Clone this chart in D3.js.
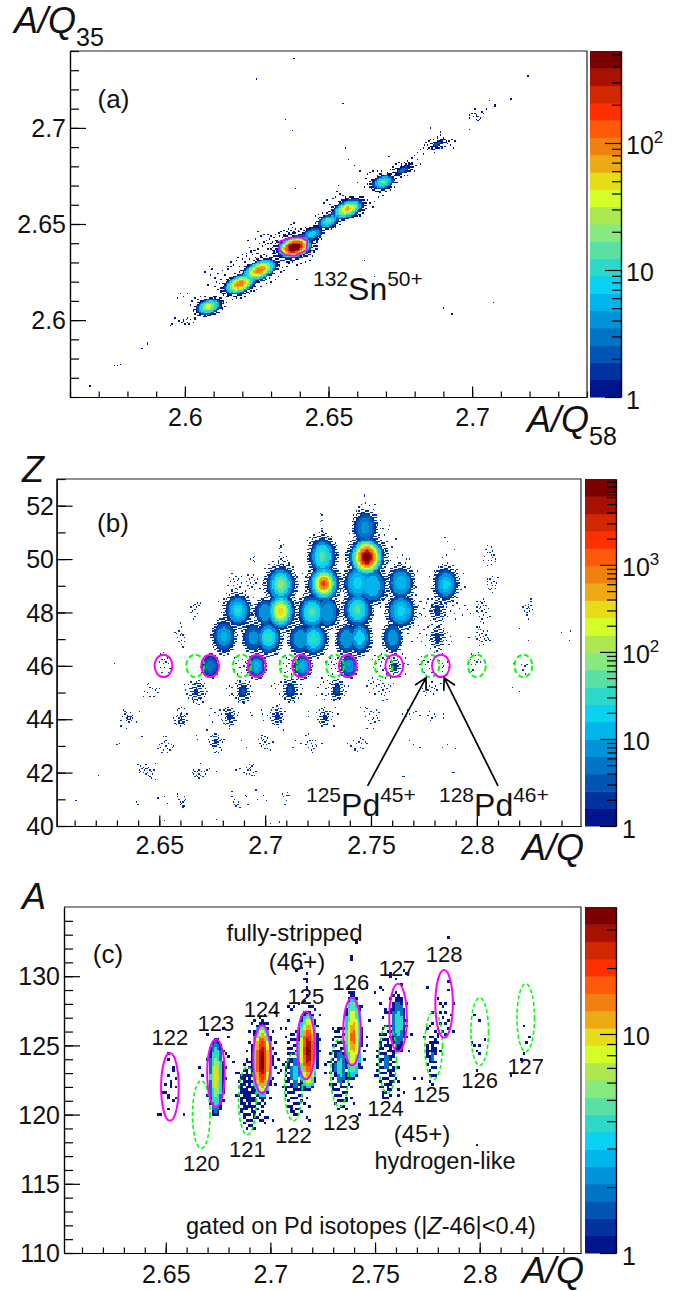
<!DOCTYPE html>
<html>
<head>
<meta charset="utf-8">
<script src="https://cdnjs.cloudflare.com/ajax/libs/d3/7.8.5/d3.min.js"></script>
<style>
html, body { margin: 0; background: #fff; }
svg { display: block; }
text { font-family: "Liberation Sans", Arial, sans-serif; fill: #111; }
.axis path, .axis line { stroke: #000; stroke-width: 1.2; }
.axis text { font-size: 25px; font-family: "Liberation Sans", Arial, sans-serif; fill: #111; }
</style>
</head>
<body>
<div id="chart"></div>
<script>
// 20 colour bands of the z scale, bottom to top
const palette = ["#00148c", "#0033a0", "#0055b4", "#0074c4", "#0093d8", "#00b4ec", "#0ad2f2", "#2ed8c8", "#5ae0a4", "#86ea7e",
    "#ade850", "#d4ff28", "#e6dc18", "#ecaa14", "#f28010", "#ff5a0a", "#ff3000", "#d02800", "#a81000", "#7d0000"];

// tick values
const ticksQA = [2.6, 2.65, 2.7];
const ticksQB = [2.65, 2.7, 2.75, 2.8];
const ticksZ = [40, 42, 44, 46, 48, 50, 52];
const ticksA = [110, 115, 120, 125, 130];

// Pd ridge lines: A/Q of the fully-stripped and hydrogen-like isotopes
const massBare = [122, 123, 124, 125, 126, 127, 128];
const qBare = [2.652, 2.674, 2.696, 2.717, 2.739, 2.761, 2.783];
const massHlike = [120, 121, 122, 123, 124, 125, 126, 127];
const qHlike = [2.667, 2.689, 2.711, 2.733, 2.756, 2.778, 2.8, 2.822];

// the 132Sn gate in panel (a)
const gateSn = [[2.6329, 2.6408], [2.6368, 2.6429], [2.6407, 2.6429], [2.6426, 2.6412],
    [2.6424, 2.6365], [2.6383, 2.6335], [2.6349, 2.6339], [2.6329, 2.6365]];

// isotope blobs: [x, y, [[count, half width, half height], ...]] read as contours from the picture
// a count of .5 is a contour where only part of the bins are filled
const blobsA = [
    [2.6083, 2.607, [[1, .0036, .0026], [2, .0033, .0024], [5, .0029, .0021], [10, .0025, .0019], [20, .0017, .0012], [35, .0009, .0007]]],
    [2.6192, 2.6188, [[1, .0048, .0031], [2, .0045, .0029], [5, .0041, .0026], [10, .0037, .0024], [20, .003, .002], [40, .0024, .0016], [70, .0017, .0012], [110, .001, .0007]]],
    [2.626, 2.626, [[1, .0052, .0031], [2, .0049, .0029], [5, .0045, .0027], [10, .0041, .0024], [20, .0033, .002], [40, .0026, .0016], [70, .0018, .0012], [100, .001, .0007]]],
    [2.6382, 2.638, [[.5, .0066, .0048], [1, .005, .0038], [2, .0047, .0036], [5, .0043, .0034], [10, .004, .0031], [20, .0037, .0029], [40, .0034, .0026], [80, .003, .0023], [150, .0026, .0019], [250, .0021, .0016], [400, .0016, .0012], [520, .0011, .0008]]],
    [2.6443, 2.6448, [[1, .0031, .002], [2, .0027, .0017], [4, .0021, .0013], [8, .0012, .0008]]],
    [2.65, 2.6515, [[1, .0033, .0022], [2, .003, .002], [5, .0024, .0015], [10, .0016, .001], [15, .0008, .0005]]],
    [2.6566, 2.6578, [[1, .0048, .003], [2, .0044, .0027], [5, .0039, .0024], [10, .0033, .002], [20, .0026, .0016], [40, .0018, .0011], [70, .0009, .0006]]],
    [2.669, 2.6718, [[1, .0032, .0024], [2, .0029, .0021], [5, .0024, .0017], [10, .0016, .0012], [18, .0008, .0005]]],
    [2.6758, 2.678, [[.5, .0036, .002], [1, .0022, .0011], [2, .0016, .0008], [3, .0009, .0005]]],
    [2.688, 2.6916, [[.5, .003, .0016], [1, .0016, .0008], [2, .001, .0005]]]
];

// sparse cells: [centre x, centre y, [dx, dy, dx, dy, ...] in bins around that centre]
const cellsA = [
    [2.6005, 2.5992, [-5, 0, -3, -1, -2, 1, -1, -2, 0, 1, 1, -1, 2, -2, 3, 1, 5, -1, 6, 1, 6, 2, -8, 2, -10, -2, 1, 2, -2, 0]],
    [2.7016, 2.7058, [-5, 1, -3, 2, -1, 5, -2, 0, 0, 0, 0, 1, 1, 0, 0, -2, 2, -2, 1, -3, 3, -1, 5, 2, 4, 3, 7, 5, -5, -1, -1, 2, -5, -9, 13, 8, 9, 11]],
    [2.6382, 2.638, [-19, 5, -18, 3, -17, 6, -16, 8, -15, 4, -14, 7, -13, 9, -12, 5, -11, 10, -10, 8, -9, 11, -8, 7, -7, 12, -6, 9, -5, 11, -4, 13, -3, 10, -2, 12, -1, 14, 0, 11, 1, 13, 3, 12, 5, 13, -16, 3, -13, 5, -10, 10, -7, 9, -4, 10, -20, 2, -21, 4, 7, 12, 9, 11, 11, 7, 13, 3, 15, 1, 16, -1, 14, -3, 13, -6, 11, -9, 8, -10, 5, -11, 2, -12, -1, -10, -4, -11, -11, -6, -14, -3, -16, -1, -18, -1, -30, -3, -28, -2, -26, -4, -31, 0, -25, -1, -22, 1, -24, 3, -27, 6, -23, 8, -21, 9, -2, 16, 0, 17, -18, 9, -32, 5, -25, 11]],
    [2.626, 2.626, [-18, 4, -16, 7, -14, 3, -12, 8, -10, 6, -9, 10, -7, 8, -5, 11, -3, 9, -1, 12, 1, 10, 3, 11, 5, 8, 8, 9, 10, 7, 12, 6, 14, 3, 16, 2, 17, 0, 15, -1, 13, -4, 11, -6, 8, -8, 5, -9, -9, 12, -12, 11, -15, 9, -20, 6, -22, 3, 19, 3, 21, 5, -3, 14, -6, 14]],
    [2.6192, 2.6188, [-17, 4, -15, 7, -13, 3, -12, 9, -10, 6, -8, 10, -16, 1, -14, 0, -17, -2, -15, -4, -13, -6, -11, -8, -8, -9, -5, -11, -2, -10, 1, -10, 4, -9, 7, -7, 10, -5, 12, -4, 15, -2, -20, 6, -19, 10, -22, -1, -6, 12, -21, 12, -24, 8]],
    [2.6083, 2.607, [-12, 4, -10, 6, -8, 5, -6, 7, -3, 7, 0, 6, 4, 6, 7, 5, 10, 3, 11, 0, 9, -2, 7, -4, 4, -5, 1, -6, -3, -6, -6, -5, -9, -4, -11, -2, -13, 1, -18, 7, -20, 9, -22, 6, -15, 9, 12, 3]],
    [2.6566, 2.6578, [-16, 4, -14, 6, -12, 3, -10, 7, -8, 8, -7, 12, -6, 16, -5, 10, -3, 9, -1, 8, 2, 8, 5, 7, 8, 5, 11, 3, 13, 0, 11, -3, 9, -5, 14, 6, 16, 4, 19, 5, 22, 8, 25, 9, 18, 1]],
    [2.669, 2.6718, [-12, 3, -11, 6, -9, 7, -7, 8, -4, 8, -1, 8, 3, 7, 6, 6, 9, 3, 10, 0, 8, -3, 5, -5, 2, -6, -2, -7, -5, -6, -8, -4, -11, -1, -13, -3, -18, 0, -16, 8, -20, 12, -24, 16]],
    [2.6758, 2.678, [-11, -3, -9, 0, -7, 2, -6, -2, -5, 4, -4, 1, -3, 5, -2, -3, -1, 3, 1, 5, 2, -2, 3, 6, 4, 3, 5, 0, 6, 5, 7, 2, 8, -1, 9, 3, -8, -5, -10, -8, 10, 7, 12, 4, 3, -4, -3, -4, 14, 11, 17, 14, 20, 15, 22, 12, 24, 17, 26, 19]],
    [2.688, 2.6916, [-9, -1, -8, 1, -7, -1, -6, 2, -5, 0, -5, 3, -4, -3, -3, 3, -2, -4, 0, 4, 0, 5, 2, 6, 2, 3, 3, -3, 4, 4, 5, 1, 5, -2, 6, 2, 7, 0, 8, 2, 9, -1, 10, 3, 12, 2, 11, -3, 2, 8, -10, -3, -12, -4, -14, -6, -16, -8, -18, -10, -20, -13, -22, -14]],
    [2.65, 2.6515, [-9, 4, -7, 5, -4, 6, -1, 6, 2, 6, 5, 4, 7, 2, 8, -2, 5, -4, 2, -5, -2, -5, -5, -4, -8, 0]],
    [2.6443, 2.6448, [-8, 4, -5, 5, -2, 5, 1, 4, 4, 4, 7, 1, 6, -3, 3, -4, 0, -5, -3, -4, -6, -2]]
];

// stray counts in panel (a)
const strayQA = [2.6378, 2.6248, 2.7196, 2.7135, 2.7062, 2.708, 2.6551, 2.6349, 2.6373, 2.6857, 2.6989, 2.6561, 2.6712, 2.6383, 2.6624, 2.6392, 2.6662, 2.7074, 2.6899, 2.693, 2.567, 2.5753, 2.5765, 2.5774, 2.585, 2.5868, 2.5872, 2.5948];
const strayYA = [2.7362, 2.7255, 2.727, 2.7147, 2.714, 2.7114, 2.7124, 2.7046, 2.6984, 2.6999, 2.6994, 2.6896, 2.6849, 2.6687, 2.6313, 2.6214, 2.6224, 2.6094, 2.6063, 2.6032, 2.5657, 2.5761, 2.5766, 2.5772, 2.585, 2.5886, 2.5876, 2.5969];

const blobsB = [
    [2.748, 50.07, [[1, .0078, .95], [3, .0073, .88], [10, .0066, .8], [30, .0057, .72], [70, .005, .66], [150, .0047, .58], [300, .004, .52], [600, .0034, .44], [1500, .0028, .36], [3000, .0021, .3], [6000, .0014, .2], [9000, .001, .12]]],
    [2.7277, 49.07, [[1, .0068, .85], [3, .0063, .8], [8, .0055, .72], [20, .0047, .62], [50, .004, .52], [120, .0032, .42], [300, .0025, .33], [600, .0017, .23], [1000, .001, .14]]],
    [2.7271, 50.1, [[1, .0058, .85], [2, .0052, .78], [5, .0045, .68], [10, .0035, .55], [18, .0022, .35], [26, .0012, .2]]],
    [2.7074, 49.04, [[1, .0063, .85], [2, .0057, .78], [5, .005, .7], [12, .0038, .55], [25, .0026, .4], [45, .0014, .22]]],
    [2.7074, 48.04, [[1, .0062, .85], [3, .0056, .78], [8, .005, .7], [20, .0042, .6], [50, .0033, .48], [110, .0024, .35], [200, .0013, .2]]],
    [2.7, 48.0, [[1, .0045, .6], [2, .004, .55], [4, .0028, .4]]],
    [2.6871, 48.07, [[1, .0054, .72], [2, .0048, .66], [4, .0042, .58], [8, .003, .42], [14, .002, .28], [20, .001, .15]]],
    [2.7222, 48.0, [[1, .0062, .8], [2, .0056, .74], [5, .0048, .64], [10, .0036, .5], [20, .0024, .33], [30, .0012, .17]]],
    [2.7293, 48.0, [[1, .005, .7], [3, .0042, .6], [6, .0028, .4]]],
    [2.7437, 48.1, [[1, .0062, .8], [2, .0056, .74], [5, .0048, .64], [10, .0036, .5], [18, .0024, .33], [26, .0012, .17]]],
    [2.7642, 48.05, [[1, .0058, .78], [2, .0053, .7], [4, .0046, .6], [8, .0033, .45], [15, .0018, .25]]],
    [2.7815, 48.05, [[.5, .0036, .55], [1, .0016, .25]]],
    [2.7439, 49.1, [[1, .0062, .8], [2, .0056, .74], [4, .0048, .65], [8, .0035, .5], [12, .002, .3]]],
    [2.7505, 49.0, [[1, .006, .8], [3, .0052, .7], [8, .0035, .5]]],
    [2.7642, 49.1, [[1, .0052, .72], [2, .0047, .66], [4, .004, .55], [8, .0025, .35]]],
    [2.7854, 49.05, [[1, .005, .72], [2, .0045, .66], [4, .0037, .55], [8, .0026, .38], [12, .0015, .22]]],
    [2.7472, 51.16, [[1, .0048, .75], [2, .0042, .65], [3, .0032, .5], [4, .0018, .3]]],
    [2.6806, 47.1, [[1, .0048, .72], [2, .0042, .62], [4, .0032, .45], [7, .0018, .25]]],
    [2.6943, 47.05, [[1, .0042, .62], [2, .0036, .55], [4, .0022, .33]]],
    [2.7016, 47.05, [[1, .0055, .75], [2, .005, .68], [5, .0042, .58], [10, .003, .42], [18, .0018, .25]]],
    [2.7165, 47.0, [[1, .0048, .65], [2, .0042, .58], [4, .003, .42]]],
    [2.7229, 47.0, [[1, .0058, .75], [2, .0052, .68], [5, .0044, .58], [10, .0032, .42], [20, .002, .26]]],
    [2.7385, 47.0, [[1, .0045, .65], [2, .004, .6], [5, .0028, .42]]],
    [2.7447, 47.05, [[1, .0048, .72], [2, .0042, .65], [5, .0034, .52], [10, .0022, .33]]],
    [2.7602, 47.05, [[1, .004, .65], [2, .0035, .58], [4, .0024, .38]]],
    [2.7815, 47.05, [[.5, .0034, .55], [1, .0014, .22]]],
    [2.674, 46.0, [[1, .0036, .5], [2, .0028, .4], [3, .0018, .25]]],
    [2.696, 46.0, [[1, .0038, .52], [2, .0034, .46], [4, .0026, .36], [8, .0015, .2]]],
    [2.7177, 46.0, [[1, .0038, .52], [2, .0034, .46], [4, .0026, .36], [8, .0015, .2]]],
    [2.7395, 46.0, [[1, .0036, .5], [2, .0032, .44], [4, .0022, .3], [6, .0012, .16]]],
    [2.7612, 46.0, [[.5, .0026, .42], [1, .0012, .18]]],
    [2.6677, 45.04, [[.5, .003, .5], [1, .001, .15]]],
    [2.6895, 45.04, [[.5, .003, .52], [1, .0018, .3], [2, .0008, .15]]],
    [2.7119, 45.1, [[.5, .0034, .55], [1, .002, .35], [2, .0011, .2]]],
    [2.7338, 45.1, [[.5, .003, .5], [1, .0016, .3], [2, .0008, .15]]],
    [2.6606, 44.0, [[.5, .0016, .3], [1, .0006, .1]]],
    [2.6834, 44.1, [[.5, .0026, .42], [1, .0011, .2]]],
    [2.7059, 44.1, [[.5, .0024, .4], [1, .001, .16]]],
    [2.728, 44.08, [[.5, .0024, .38], [1, .001, .16]]],
    [2.6767, 43.15, [[.5, .002, .32], [1, .0006, .1]]]
];

const cellsB = [
    // rims of the dense blobs
    [2.748, 50.07, [-15, 5, -14, 12, -13, -6, -13, 18, 14, 6, 14, -5, 15, 12, 16, -3, 13, 17, 10, 22, 19, 8, 18, -2, -16, 2, 12, 22, 22, 14, 24, -4]],
    [2.7472, 51.16, [-9, 10, -8, 4, -9, -4, -7, 13, -5, 16, -3, 18, 0, 19, 3, 17, 6, 14, 8, 10, 9, 3, 10, -5, -1, 25, -1, 24, 7, 18, 11, 6, 18, 2, 17, -1]],
    [2.7277, 49.07, [-13, 6, -12, -3, -13, -10, -14, 2, -16, 8, 13, 8, 13, -4, 14, 2, 12, -12]],
    [2.7271, 50.1, [-11, 5, -10, -6, -11, 12, -9, 14, -6, 16, -2, 18, 3, 17, 7, 15, 10, 10, 11, 2, 0, 27, -1, 26, 0, 31, -1, 32]],
    [2.7074, 49.04, [-12, 6, -11, -5, -12, 12, -9, 15, -6, 17, -2, 18, 2, 17, 6, 15, 9, 13, 12, 6, 12, -2, -1, 27, 0, 28, -1, 33, 2, 30, -14, 0]],
    [2.6871, 48.07, [-11, 4, -10, 9, -8, 13, -4, 15, 0, 16, 4, 14, 8, 11, 10, 5, 11, -2, 10, -8, 7, -12, 3, -15, -2, -15, -6, -12, -10, -6, -12, -1, -14, 7, 12, 10, 14, 1]],
    [2.7642, 49.1, [-10, 4, -9, -6, -8, 11, -5, 14, -1, 15, 3, 15, 7, 12, 10, 6, 11, -3, -12, 2, -3, 19, 1, 21, 4, 18, 12, 9, 6, 18]],
    [2.7642, 48.05, [-12, 5, -13, -2, -10, -9, -14, 8, -16, 3, -11, 11, -7, 14, 11, 12, 12, 3, 12, -5, 9, -11, 5, -14, 0, -16, -4, -15, 14, 7, 15, -3]],
    [2.7854, 49.05, [-10, 4, -11, -3, -9, 10, -6, 13, -3, 15, 1, 16, 5, 14, 8, 11, 10, 4, 11, -4, 8, -10, 5, -13, 0, -15, -4, -14, -8, -10, -13, 6, 13, 8, 14, -2, 0, 22, -3, 20, 1, 32, -1, 35, 6, 26]],
    [2.7815, 48.05, [-14, 4, -13, -2, -12, 7, -10, 2, -9, -4, -8, 6, -7, 9, -6, 0, -5, -7, -4, 9, -4, 4, -2, 11, 0, 8, 1, -7, 2, -11, 4, 9, 5, 4, 5, -8, 7, 3, 8, -4, 9, 7, 10, 0, 12, 4, 13, -2, 15, 6, 17, 2, 19, -3, 21, 4, 23, 1, 25, -2, 14, -6, -6, -11, -2, -13]],
    [2.7815, 47.05, [-15, 0, -13, 3, -12, -3, -10, 6, -9, -6, -8, 2, -7, 8, -6, -2, -5, -8, -4, 10, -3, 6, 0, 12, 1, 9, 3, 10, 5, 7, 6, 3, 7, -2, 8, 4, 9, -5, 10, 1, 11, -3, 3, -9, 0, -10, -2, -11, 4, -12, 1, -13, -14, 9, -19, -3, -22, 3, -31, 9, -31, -2]],
    // fully- and hydrogen-like rows
    [2.6525, 46.1, [-3, 7, -1, 8, 1, 6, -2, 3, 0, 3, 2, 4, -4, 1, -1, 0, 1, 1, 3, 0, -3, -3, 0, -3, 4, -4, 3, -7, -2, -7, -38, 0]],
    [2.6886, 46.0, [-5, 6, -4, 2, -5, -3, -3, -6, -2, 4, -1, -1, 1, 5, 2, 0, 0, -5, 3, -8, 4, 7, 3, 3]],
    [2.711, 46.0, [-7, 4, -6, -2, -5, 7, -4, 2, -3, -5, -2, 6, -2, 0, -1, -4, 0, 5, 0, 2, 1, -2, 2, 4, 2, -6, 3, 0]],
    [2.733, 46.0, [-7, 3, -6, -4, -5, 1, -4, 6, -3, -2, -3, 3, -2, -6, -1, 1, 0, 5, 0, -2, 1, 2, 2, -4, 2, 6, 3, 0]],
    [2.7557, 46.1, [-8, 3, -7, -3, -6, 6, -5, 0, -4, -6, -3, 3, -2, -2, -1, 7, -1, 1, 0, -5, 1, 3, 2, -2, 3, 5, 4, -7]],
    [2.7612, 46.0, [-9, 6, -8, -2, -7, 3, -6, -6, -5, 8, -4, 6, -3, -9, 0, 9, 2, 7, 4, -8, 5, 5, 6, -3, 7, 2, 8, -6, 8, 6, 6, 9, 10, 1]],
    [2.7767, 46.1, [-7, 3, -6, -1, -5, 5, -4, -4, -3, 2, -2, -1, -1, 5, 0, 1, 1, -4, 2, 3, 3, -7, -3, -7]],
    [2.7835, 46.0, [-2, 4, 0, 2, 0, -1, 1, 0, 0, -4, 4, 3, 5, -1, 3, -7]],
    [2.7992, 46.1, [-3, 7, 0, 6, 2, 8, -4, 3, -1, 2, 2, 3, 4, 1, -3, -1, 0, -1, 1, 1, -2, -5, -3, -6, -4, -7]],
    [2.8228, 46.0, [-2, 1, 0, 0, 1, 0, 2, 1, -1, -3, 1, -6, -8, 2]],
    // upper sparse groups
    [2.8055, 50.0, [-3, 2, -2, 7, 0, -1, 1, 5, 2, 3, 2, -1, 3, 6, 3, 1, 4, 3, 5, 0, 5, -2, -4, -1, -1, 5, -1, -5, 2, -4, -1, 10, 2, 9]],
    [2.8066, 49.04, [-3, 4, -3, 0, -2, -3, -1, 4, 0, 1, 0, -3, 1, 6, 1, -1, 2, 2, 3, -3, 4, 1, -1, -4, 1, -6, 5, 5, 3, -1, -3, 2]],
    [2.8024, 48.1, [-4, 2, -4, -1, -3, 4, -3, -2, -2, 1, -2, -5, -1, 6, -1, 2, 0, -1, 0, 5, 1, 3, 1, -4, 2, 0, 3, 3, 3, -2, 4, -6, 5, 1, 6, -5, -1, -9, 0, -7, 1, -10, -4, 6, 1, 8, 2, 6]],
    [2.8024, 47.12, [-5, 0, -4, 3, -4, -2, -3, 5, -2, -3, -2, 1, -1, 5, -1, -1, 0, 2, 0, -4, 1, 0, 1, 4, 2, -2, 3, 1, 3, -3, 4, -1, 5, -2, 6, -3, -2, 7, 1, -6, -2, -7, -10, -1, -4, 7, 4, 4]],
    [2.8236, 48.16, [-3, 1, -2, -2, -1, 2, 0, 0, 0, -3, 1, 3, 1, 1, 2, 0, 2, -2, 3, 2, 4, -1, 0, -5, 1, -8, 3, 7, 3, 5]],
    [2.6861, 49.04, [-5, 5, -4, 2, -3, 8, -2, 4, -2, -1, -1, 2, 0, 6, 0, -3, 1, 3, 1, 0, 2, 4, 3, -2, 4, 1, -3, -4, -6, -1, -1, -6, 4, 6]],
    [2.6938, 49.04, [-4, 2, -3, -1, -2, 4, -2, -3, -1, 1, 0, 5, 0, -2, 1, 0, 2, 3, 2, -4, 3, 1, -3, 7, 1, 7, 4, 4, 6, -3, -5, -5]],
    [2.6669, 48.04, [-3, 3, -1, 4, 0, 5, 1, 3, 2, 6, 3, 4, 4, 6, -2, 0, 0, 1, -3, -1, 0, -4, -1, -6, 2, -2]],
    [2.6598, 47.1, [-4, 3, -3, 2, -1, 4, 1, 7, 0, 1, 2, 1, 3, -1, -2, -1, -1, -4, 1, -3, 3, -4, 1, -6, 2, -8, 0, 10, 1, 2]],
    [2.7079, 49.9, [-3, 0, -2, 4, -1, 2, -1, 7, 0, 1, 0, -2, 1, 3, 2, 0, 3, 4, 4, 1, 5, -1, -1, 12, 1, -3]],
    [2.7268, 51.0, [0, 3, 0, 1, 1, 0, 1, -2, 0, -4]],
    [2.6943, 50.0, [-2, 0, 0, 1, 0, -1, 1, 2, 1, -2]],
    // lower groups
    [2.6677, 45.04, [-9, 5, -8, 1, -7, -2, -6, 5, -6, -5, -5, 2, -5, -3, -4, 7, -3, -6, -3, 3, -2, -8, -1, 6, 0, -9, 0, 7, 1, -7, 2, 8, 3, 6, 3, -6, 4, -5, 5, 4, 6, -4, 7, 2, 7, -2, 8, 0, 6, 6, 5, -8, 2, -10, 4, 9]],
    [2.6895, 45.04, [-12, 2, -10, 4, -8, -2, -8, 3, -7, -3, -5, 6, -5, -5, -4, 8, -3, -6, -2, 8, 0, -8, 2, 8, 5, 7, 6, 4, 7, 0, 6, -4, 4, -7, 1, -9, -3, -8, -10, -3]],
    [2.7119, 45.1, [-14, 3, -12, 5, -11, 1, -9, 4, -8, -3, -7, 6, -6, -5, -4, -7, 0, -8, 3, -9, 6, -6, 8, -3, 8, 4, 5, 8, 1, 9, -4, 8, -1, -9, 9, 1]],
    [2.7338, 45.1, [-14, 2, -12, 4, -11, -3, -10, 6, -8, 1, -8, -4, -7, 7, -6, -3, -5, 5, -6, 2, -4, -7, -2, 7, 1, 8, 4, 6, 6, 3, 7, -1, 6, -4, 2, -7, -2, -8, -11, 9, -9, -7, 9, 3, -15, -4, -6, 11]],
    [2.7551, 45.1, [-11, 3, -10, 7, -9, -2, -8, 5, -7, 9, -6, 1, -6, 6, -5, -3, -4, 3, -3, 8, -2, -1, -2, 4, -1, 7, 0, -3, 0, 2, 1, 0, 1, 5, 2, -4, 2, 3, 3, -2, 4, 1, 3, 9, 5, 4, 6, -1, 7, 3, 4, -7, 1, -8, 9, 5]],
    [2.7771, 45.1, [-4, 1, -3, -1, -2, 2, -1, -2, 0, 0, 1, 3, 2, -1, 3, 2, 4, -3, 5, 1, 6, 3, -2, -4, 7, 0, 3, 6, 10, 5]],
    [2.6457, 45.0, [-2, 6, -1, 7, 0, 4, 2, 3, 4, 2, 5, 3, 6, 0, -4, 1, -2, 0, -5, -3, 0, -3, 3, -3, 7, 3]],
    [2.6359, 44.04, [-4, 6, -3, 5, -5, 1, -2, 4, -1, 2, 1, 4, 3, 2, -2, 0, -1, 0, 1, 0, 3, 0, -2, -2, 0, -3, 2, -2, 6, -3, -6, -2, -6, -6, -2, -8, 8, 5, -1, 1, 0, 1, 1, 1, 0, -1, -1, -1, 1, -1, 2, 1, -3, 3]],
    [2.6606, 44.0, [-6, 1, -5, -1, -5, -3, -4, 2, -3, 7, -2, 8, -2, -2, -1, 3, -1, -5, 0, 5, 0, 9, 1, 2, 2, -4, 2, 8, 3, 2, 4, 4, 4, -1, -4, -4, 1, -3, -3, 3]],
    [2.6834, 44.1, [-7, 5, -6, 2, -6, -2, -5, -3, -4, 5, -4, -5, -3, 6, -3, -6, -1, 7, 0, -7, 0, -9, 2, 6, 3, -6, 4, 4, 5, -3, 6, 1, 7, 3, -8, 1, -15, 1, -14, 6, -13, -4, -11, 3]],
    [2.7059, 44.1, [-5, 3, -5, -1, -4, 5, -4, -3, -3, 7, -3, -5, -2, -6, 0, 8, 0, -6, 1, -8, 3, 6, 3, -4, 4, 2, 5, -2, 6, 4, 2, 9, -7, 1, 5, -10, -11, 2, -12, 5, -10, -3, -20, 3, -19, 1]],
    [2.728, 44.08, [-6, 3, -5, -2, -4, 5, -4, -4, -3, -5, -2, 6, 0, 7, 2, -6, 4, 4, 5, -2, 6, 0, 6, 3, 1, -6, -2, -7, 8, 7, 10, 2, -12, 4, -12, 0, 7, -7]],
    [2.7504, 44.08, [-6, 4, -5, 0, -4, 6, -3, -3, -2, 2, -1, 4, -1, -5, 0, -2, 1, 3, 1, -1, 2, -4, 3, 1, 3, 5, 4, -1, 5, 3, 5, -3, -9, 7, -5, 7, 1, -9, -4, -9]],
    [2.6534, 43.0, [-5, 1, -4, -1, -3, 2, -2, -3, -1, 3, 0, 0, 0, 4, 1, -2, 2, 2, 3, -3, 4, 1, 5, -1, 6, 0, -6, -2, -2, 7, 0, 7, 1, -5, -3, -5]],
    [2.6767, 43.15, [-6, 2, -5, 0, -4, 4, -4, -2, -3, 5, -3, -3, -2, -5, 0, 6, 0, -7, 2, 5, 3, -4, 4, 2, 5, 0, 6, 2, 4, -6, 2, -8, -1, -8, -14, 2, -15, 5, -7, 9, -1, 6]],
    [2.6995, 43.15, [-4, 2, -3, -1, -2, 3, -2, -3, -1, 5, -1, 1, 0, -2, 0, 2, 1, 0, 1, 4, 2, -2, 2, 1, 3, 3, 4, -1, 3, -5, 1, -5, 5, -6, -2, 5, -17, 1, -13, -4, 7, 0]],
    [2.7226, 43.04, [-5, 0, -4, 2, -3, -2, -2, 3, -1, 1, 0, -1, 0, 3, 1, -3, 2, 0, 2, 3, -1, -4, 0, -6, 3, -1, -5, 7, -3, 8, -13, 3, -15, -2, -9, 1, 7, 1]],
    [2.7448, 43.04, [-10, 1, -7, -1, -5, 3, -4, -3, -3, 1, -2, -5, -1, 2, 0, -2, 1, 1, 0, 5, 2, 4, 4, 2, 5, 1, 2, -3, -4, -4]],
    [2.645, 42.03, [-8, 5, -6, 4, -7, 1, -6, 0, -5, 2, -4, 3, -4, -1, -3, 1, -2, 5, -2, -2, -1, 2, -1, -1, 0, 3, 0, -3, 1, 1, 1, -4, 2, 0, 2, -5, 3, -2, 4, 1, 5, -6, -2, 2, -7, -1, 5, 6]],
    [2.6695, 42.0, [-6, 0, -5, -1, -4, 1, -3, -2, -2, 1, -2, -3, -1, 2, -1, -1, 0, 7, 0, -2, 1, 1, 2, -3, 3, 1, 4, -1, 5, 2, 7, 3, -5, 2, -4, -3, -1, -4, 12, 1]],
    [2.6928, 42.15, [-2, 1, 0, 0, -1, -1, 1, 1, 1, -1, 2, 2, 0, 3, 3, 3, -4, -3, -2, -4, 0, -4, 2, -5, 3, -3, 5, -2, -7, 0, -10, -1, 4, -5]],
    [2.6614, 40.97, [-4, 5, -4, 3, -3, 1, -2, -1, -1, -2, 0, -1, 1, 0, 1, 3, -2, -3, 0, -4, 1, -4, 0, -5, 2, 1, -35, -1, -34, -3, -19, 2, -14, 3, -12, -2]],
    [2.6856, 40.95, [-2, 7, -2, 3, 0, 1, 0, -3, 2, -3, 3, -3, 4, -5, 1, -4, 3, -1, -1, -1, 9, 3, 10, -3, 8, 4]],
    [2.7108, 41.1, [-4, 2, -3, 0, 0, 3, 0, 1, -1, 1, 1, 1, -1, -3, -2, -6, -24, 5, -23, -2, -18, 1, -16, -3]],
    // sparse band between the dense rows and the arrows
    [2.7688, 44.1, [-6, 2, -3, 0, -2, 5, -1, 2, 0, -2, 2, 3, 4, 4, 7, 1, 13, 1, 16, -1, 14, 4, 15, -3, 18, 2, 19, 0, 25, 2, 25, -1]],
    [2.768, 43.2, [0, 0, 3, -3, 8, -5, 25, -5, 29, -3]],
    [2.789, 42.0, [0, 0]],
    [2.765, 41.85, [0, 0]]
];

const strayQB = [2.6104, 2.6214, 2.6303, 2.631, 2.6421, 2.6525, 2.6767, 2.7023, 2.7071, 2.8441, 2.84, 2.8437, 2.8199, 2.8244, 2.8171, 2.8197, 2.7654, 2.7896, 2.7902];
const strayZB = [40.97, 41.91, 43.04, 43.11, 43.37, 40.19, 40.26, 40.08, 40.15, 47.28, 47.24, 46.97, 47.42, 46.97, 45.21, 45.04, 41.85, 42.02, 42.92];

const blobsC = [
    [2.696, 123.9, [[1, .0046, 2.9], [3, .004, 2.7], [5, .0036, 2.5], [8, .003, 2.2], [12, .0026, 2.0], [16, .0022, 1.7], [22, .0018, 1.4], [28, .0013, 1.1], [34, .0007, .6]]],
    [2.718, 124.6, [[1, .0044, 3.0], [3, .0038, 2.8], [5, .0034, 2.6], [8, .0028, 2.3], [12, .0024, 2.0], [16, .002, 1.6], [22, .0016, 1.2], [28, .0011, .9], [34, .0007, .5]]],
    [2.7395, 125.6, [[1, .0038, 3.2], [3, .0033, 3.0], [5, .0029, 2.5], [8, .0022, 1.9], [12, .0014, 1.1], [16, .0008, .5]]],
    [2.674, 122.7, [[1, .0034, 2.9], [2, .0029, 2.6], [4, .0024, 2.2], [6, .0016, 1.5], [9, .0009, .8]]],
    [2.761, 126.6, [[1, .0028, 2.1], [2, .0024, 1.6], [4, .0016, .9]]],
    [2.7118, 123.0, [[.5, .004, 3.2], [2, .0018, 1.1], [3, .001, .6]]],
    [2.7335, 123.4, [[.5, .004, 3.2], [2, .002, 1.3], [4, .0012, .8]]],
    [2.7555, 123.8, [[.5, .0036, 3.0], [2, .0012, .6]]],
    [2.6895, 121.3, [[.5, .0034, 2.6]]],
    [2.777, 124.2, [[.5, .002, 1.8], [2, .0006, .4]]]
];

const cellsC = [
    [2.652, 122.0, [-1, 10, 1, 7, 1, 6, -1, 4, 0, 2, 2, 3, 0, 1, -2, 1, 0, 0, 2, 0, -2, -2, -1, -3, 2, -4, -3, -2, -1, -4, 1, -5, -1, -8, -5, -10, 5, -10, -1, 12]],
    [2.6735, 123.0, [-3, 14, 3, 16, -1, 11, -6, 2, -5, -1, 7, 4, 8, 0, 4, 7, 5, 6, 3, -4, 3, -7, -1, -14, 0, -15, 1, -15, -1, -15, -3, 5, 3, 8, 4, 2, 4, -2, -3, -5, -3, -8, 3, -10, -2, -11, 2, -12, 0, -13, -1, -12, 1, -13, 5, 13, -2, 9, 1, 11, 2, 10]],
    [2.6886, 121.5, [-3, 7, -2, 6, -1, 6, 0, 7, 1, 5, 2, 6, -3, 4, -1, 4, 1, 3, 3, 3, -3, 2, -2, 2, 0, 2, 2, 1, 3, 1, -2, 0, -1, 0, 1, 0, 3, 0, -3, -1, -1, -2, 0, -2, 2, -2, 3, -3, -2, -3, 1, -4, -1, -5, 0, -5, 2, -6, -2, -7, 0, -8, 1, -8, 3, -8, -1, -9, 4, -9, 5, -10, 6, -5, 7, -9, 4, -4, -4, -1, 5, -1, -1, 3, 0, 0, 1, -2]],
    [2.695, 123.57, [2, 18, 6, 19, 0, 17, -2, 16, 1, 16, -3, 15, 3, 15, 0, 15, 2, 15, -1, 14, -4, 12, 5, 12, 6, 8, 8, 13, -4, 8, -5, 5, 5, 6, 6, 4, 7, 2, -5, 2, -6, 0, 6, -1, 7, -3, -5, -3, -6, -5, 5, -5, 6, -7, -4, -7, -3, -10, 3, -10, 4, -12, 1, -13, 0, -14, 1, -15, 2, -14, -1, -16, 0, -18, 1, -17, 2, -19, 1, -20, 2, -21, 3, -19]],
    [2.7165, 124.9, [1, 18, 1, 20, 1, 21, 0, 16, -2, 15, 2, 14, 3, 14, -6, 14, -4, 14, 4, 13, -7, 3, -7, 6, 5, 7, 6, 2, 8, -7, 5, -4, 0, 24, 1, 23, 1, 26, -1, 28, 0, 33, 5, 4, 6, -2, -6, 9, -5, 13, 6, 11]],
    [2.7109, 122.0, [-2, 10, -1, 9, -2, 8, 0, 8, 1, 9, -3, 6, -1, 6, 1, 7, 3, 6, -3, 4, -2, 3, 0, 4, 2, 4, 3, 2, -3, 2, -1, 1, 1, 2, 3, 0, -3, -1, -2, -2, 0, -1, 2, -1, 4, -1, -3, -3, -1, -4, 1, -4, 3, -3, -2, -5, 0, -6, 2, -6, -2, -7, -1, -8, 1, -8, -1, -9, 1, -10, 0, -10, 3, -9, 4, -6, 5, -4, 5, -11, 6, 0, 6, -7, -4, 0, -5, 6, -4, 8, 5, 2]],
    [2.7388, 125.86, [0, 27, 2, 33, 6, 17, 0, 15, 1, 15, -1, 15, 0, 14, 1, 14, -7, 2, -5, 2, 4, 10, 7, 5, 4, 2, 6, -1, 6, -4, -5, -1, 5, -6, 5, -9, 4, -12, -4, -5, -1, 17]],
    [2.7324, 123.2, [-3, 6, -2, 4, -1, 6, 1, 4, 2, 6, -3, 3, -1, 3, 1, 2, 3, 2, -2, 1, 0, 1, 2, 0, 4, 0, -3, -1, -1, -1, 1, -1, 3, -2, -2, -3, 0, -3, 2, -3, -3, -5, -1, -5, 1, -5, 3, -6, -2, -6, 0, -7, 2, -8, 1, -9, -1, -9, 3, -11, 0, -11, 5, -6, 6, -2, 6, 3, -5, -1, -4, 3, 5, -10, 6, -12, 3, -14, 1, -13, -1, -12, 5, 7, 7, 5]],
    [2.7603, 126.8, [-2, 17, 3, 18, 0, 15, -6, 12, -5, 11, -2, 8, -1, 9, 0, 10, 2, 13, 2, 6, 1, 8, -4, 4, -4, 3, -3, 3, -2, 3, -1, 3, 0, 3, 1, 3, 2, 3, 3, 3, 3, 4, 2, 4, 1, 4, 0, 4, -1, 4, -2, 4, -6, 6, -8, 10, -5, 1, 4, -2, 4, 0, 3, -6, 4, -6, -3, -9, 2, -11, 5, -11, 6, -5]],
    [2.7547, 123.45, [-2, 8, -1, 7, 1, 9, 2, 7, -3, 6, -1, 5, 1, 6, 3, 5, -3, 4, -2, 3, 0, 3, 2, 3, 4, 2, -3, 1, -1, 0, 1, 1, 3, 0, -3, -1, -2, -2, 0, -2, 2, -2, -3, -3, -1, -4, 1, -4, 3, -3, -2, -5, 0, -6, 2, -5, 4, -4, -1, -7, 1, -7, 0, -9, -1, -9, 1, -11, -4, -3, 5, 0, 5, -5, 4, 6, 5, -10]],
    [2.7762, 124.8, [0, 2, 1, 1, -1, 1, 2, 3, 3, 4, -1, 0, 0, -1, 1, -1, -1, -2, 1, -3, 0, -4, 1, -5, 2, -1, 3, 2, -2, 4, 2, 6, -1, 7, 0, 8, 4, 9, -1, -6, 4, -1, 2, -10, 1, -13, 3, 5]],
    [2.7818, 127.9, [-5, 6, 3, 8, -1, 9, -1, 2, 0, 0, 2, 0, 1, -1, 0, -3, 2, -3, -3, -3, 1, -5, 0, -7, 2, -7, 3, -6, -1, -9, 1, -10, 2, -11, 3, -9, 5, -10, -1, -12, 2, -3, 3, 5, 5, 0, 4, -4, -3, -7]],
    [2.7993, 125.86, [-1, 7, 1, 5, -2, -3, -1, -4, 1, -4, 3, -2, 0, -6, 1, -7, 0, -13]],
    [2.8216, 126.6, [0, -1, 2, -5, 1, -7, 0, -11, -1, -13, -5, -19]]
];

const strayQC = [2.7856, 2.7416, 2.7389, 2.7131, 2.7174, 2.7646, 2.7579, 2.7531, 2.7468, 2.7982, 2.7688, 2.7729, 2.7767, 2.7614, 2.7638, 2.7422, 2.7184, 2.6923, 2.7007, 2.7532, 2.7645, 2.647];
const strayAC = [132.8, 132.5, 131.3, 130.4, 129.8, 130.2, 130.07, 129.2, 129.2, 117.7, 122.5, 122.5, 122.3, 121.8, 121.5, 120.1, 119.5, 119.1, 119.65, 121.3, 128, 120];

// mass labels of the isotope ellipses in panel (c), as [A/Q, A]
const labelAtBare = [[2.652, 125.6], [2.674, 126.6], [2.696, 127.6], [2.717, 128.6], [2.7385, 129.6], [2.7605, 130.6], [2.783, 131.6]];
const labelAtHlike = [[2.667, 116.5], [2.689, 117.5], [2.711, 118.5], [2.734, 119.5], [2.755, 120.5], [2.777, 121.5], [2.8, 122.5], [2.822, 123.5]];

// ---- layout of the three panels ----
const width = 687, height = 1291;
const svg = d3.select("#chart").append("svg").attr("width", width).attr("height", height);

function drawAxes(p) {
    const g = svg.append("g");
    // x axis: majors and 0.01 minors
    const minorX = d3.range(Math.ceil(p.xDomain[0] * 100), Math.floor(p.xDomain[1] * 100) + 1).map(d => d / 100);
    g.append("g").attr("class", "axis").attr("transform", `translate(0,${p.bottom})`)
        .call(d3.axisBottom(p.x).tickValues(minorX).tickSizeInner(-5.5).tickSizeOuter(0).tickFormat(""));
    g.append("g").attr("class", "axis x-major").attr("transform", `translate(0,${p.bottom})`)
        .call(d3.axisBottom(p.x).tickValues(p.xTicks).tickSizeInner(-10.5).tickSizeOuter(0).tickFormat(d3.format("~g")))
        .call(a => a.selectAll("text").attr("y", p.xLabelY - p.bottom).attr("dy", 0));
    // y axis
    g.append("g").attr("class", "axis").attr("transform", `translate(${p.left},0)`)
        .call(d3.axisLeft(p.y).tickValues(p.yMinor).tickSizeInner(-9).tickSizeOuter(0).tickFormat(""));
    g.append("g").attr("class", "axis").attr("transform", `translate(${p.left},0)`)
        .call(d3.axisLeft(p.y).tickValues(p.yTicks).tickSizeInner(-16).tickSizeOuter(0).tickFormat(d3.format("~g")))
        .call(a => a.selectAll("text").attr("x", p.yLabelX - p.left).attr("dy", "0.35em"));
    // top and right frame
    g.append("path").attr("fill", "none").attr("stroke", "#222").attr("stroke-width", 1.2)
        .attr("d", `M${p.left},${p.top}H${p.right}V${p.bottom}`);
}

function drawColorBar(p) {
    const log = d3.scaleLog().domain([1, p.zMax]).range([p.bottom, p.top]);
    const bandHeight = (p.bottom - p.top) / palette.length;
    svg.append("g").selectAll("rect").data(palette).join("rect")
        .attr("x", p.barLeft).attr("width", p.barRight - p.barLeft)
        .attr("y", (d, i) => p.bottom - (i + 1) * bandHeight).attr("height", bandHeight + .5)
        .attr("fill", d => d);
    const axis = svg.append("g").attr("class", "axis").attr("transform", `translate(${p.barRight},0)`);
    axis.call(d3.axisLeft(log).tickValues(p.zMinor).tickSizeInner(9).tickSizeOuter(0).tickFormat(""));
    axis.selectAll("line").attr("x2", -9);
    const major = svg.append("g").attr("class", "axis").attr("transform", `translate(${p.barRight},0)`)
        .call(d3.axisLeft(log).tickValues(p.zMajor).tickSizeOuter(0).tickFormat(""));
    major.selectAll("line").attr("x2", -16);
    major.select("path").attr("stroke", "none");
    p.zMajor.forEach(v => {
        const exp = Math.round(Math.log10(v));
        const t = svg.append("text").attr("x", p.barLabelX).attr("font-size", 25)
            .attr("y", log(v) + (v === 1 ? 11.5 : 11));
        t.append("tspan").text(exp === 0 ? "1" : "10");
        if (exp > 1) t.append("tspan").attr("font-size", 17).attr("dy", -11).text(exp);
    });
}

// the histogram of one panel: blob contours and typed cells end up on one bin grid
function drawCells(p, blobs, cells, strayX, strayY) {
    const grid = new Map();
    const put = (i, j, n) => {
        const key = i + "," + j;
        if (!grid.has(key) || grid.get(key).n < n) grid.set(key, {i, j, n});
    };
    const fill = (cx, cy, n, a, b) => {
        const reach = Math.max(a, b) * 1.5;
        const span = p.diagonal ? [reach, reach] : [a, b];
        const i0 = Math.floor((cx - span[0]) / p.binX), i1 = Math.ceil((cx + span[0]) / p.binX);
        const j0 = Math.floor((cy - span[1]) / p.binY), j1 = Math.ceil((cy + span[1]) / p.binY);
        for (let i = i0; i <= i1; i++) {
            for (let j = j0; j <= j1; j++) {
                const dx = i * p.binX - cx, dy = j * p.binY - cy;
                // panel (a) blobs lie along the diagonal
                const u = p.diagonal ? (dx + dy) / 2 : dx;
                const v = p.diagonal ? (dy - dx) / 2 : dy;
                if ((u / a) * (u / a) + (v / b) * (v / b) > 1) continue;
                // below one count only some bins get a mark
                if (n < 1) {
                    if ((i * 3 + j * 5) % 7 % 3 === 0) put(i, j, 1);
                } else put(i, j, n);
            }
        }
    };
    blobs.forEach(([cx, cy, levels]) => {
        levels.forEach(([n, a, b]) => fill(cx, cy, n, a * p.spreadX, b * p.spreadY));
        // thin halo round the outermost solid contour
        const [n0, a0, b0] = levels[0];
        if (n0 >= 1 && p.halo) fill(cx, cy, .5, a0 * p.spreadX * p.halo, b0 * p.spreadY * p.halo);
    });
    cells.forEach(([cx, cy, offs]) => {
        const ci = Math.round(cx / p.binX), cj = Math.round(cy / p.binY);
        for (let k = 0; k < offs.length; k += 2) put(ci + offs[k], cj + offs[k + 1], 1);
    });
    strayX.forEach((v, k) => put(Math.round(v / p.binX), Math.round(strayY[k] / p.binY), 1));

    const band = d3.scaleLinear().domain([0, Math.log10(p.zMax)]).range([0, palette.length]);
    const colour = n => palette[Math.min(palette.length - 1, Math.floor(band(Math.log10(n))) + p.bandShift)];
    const w = p.x(p.binX) - p.x(0), h = p.y(0) - p.y(p.binY);
    svg.append("g").attr("shape-rendering", "crispEdges")
        .style("filter", "blur(0.25px)")
        .selectAll("rect").data(Array.from(grid.values())).join("rect")
        .attr("x", d => p.x((d.i - .5) * p.binX)).attr("y", d => p.y((d.j + .5) * p.binY))
        .attr("width", Math.max(w, 1.2)).attr("height", Math.max(h, 1.2))
        .attr("fill", d => colour(d.n));
}

function italicLabel(x, y, main, sub, mainSize) {
    const t = svg.append("text").attr("x", x).attr("y", y).attr("font-size", mainSize || 36)
        .attr("font-style", "italic").text(main);
    if (sub) t.append("tspan").attr("font-style", "normal").attr("font-size", 25).attr("dy", 13).text(sub);
}

function nuclide(x, y, mass, el, charge) {
    const t = svg.append("text").attr("x", x).attr("y", y).attr("font-size", 32);
    t.append("tspan").attr("font-size", 21).attr("dy", -14).text(mass);
    t.append("tspan").attr("dy", 14).text(el);
    t.append("tspan").attr("font-size", 21).attr("dy", -14).text(charge);
}

function plainLabel(x, y, s, size, anchor) {
    return svg.append("text").attr("x", x).attr("y", y).attr("font-size", size)
        .attr("text-anchor", anchor || "middle").text(s);
}

function isotopeEllipses(p, qs, ys, colour, dash, rx, ry, sw) {
    svg.append("g").selectAll("ellipse").data(qs).join("ellipse")
        .attr("cx", d => p.x(d)).attr("cy", (d, i) => p.y(ys[i]))
        .attr("rx", d => p.x(d + rx) - p.x(d)).attr("ry", (d, i) => p.y(ys[i] - ry) - p.y(ys[i]))
        .attr("fill", "none").attr("stroke", colour).attr("stroke-width", sw)
        .attr("stroke-dasharray", dash);
}

// ---- panel (a) ----
const panelA = {
    left: 70, right: 587, top: 51, bottom: 397, barLeft: 590, barRight: 621, barLabelX: 626,
    xDomain: [2.56, 2.74], xTicks: ticksQA, yTicks: ticksQA, yMinor: d3.range(256, 275).map(d => d / 100),
    xLabelY: 426, yLabelX: 66, zMax: 530, zMajor: [1, 10, 100],
    zMinor: [2, 3, 4, 5, 6, 7, 8, 9, 20, 30, 40, 50, 60, 70, 80, 90, 200, 300, 400, 500],
    binX: .0005, binY: .00075, diagonal: true, spreadX: 1, spreadY: 1, halo: 1.22, bandShift: 0
};
panelA.x = d3.scaleLinear().domain(panelA.xDomain).range([panelA.left, panelA.right]);
panelA.y = d3.scaleLinear().domain([2.56, 2.74]).range([panelA.bottom, panelA.top]);
drawCells(panelA, blobsA, cellsA, strayQA, strayYA);
svg.append("path").datum(gateSn)
    .attr("d", d3.line().x(d => panelA.x(d[0])).y(d => panelA.y(d[1])).curve(d3.curveLinearClosed))
    .attr("fill", "none").attr("stroke", "#ff00e6").attr("stroke-width", 1.8);
drawAxes(panelA);
drawColorBar(panelA);
italicLabel(14, 33, "A/Q", "35");
italicLabel(527, 432, "A/Q", "58");
plainLabel(113.5, 108, "(a)", 26);
nuclide(313, 300, "132", "Sn", "50+");

// ---- panel (b) ----
const panelB = {
    left: 56.6, right: 581, top: 479, bottom: 826, barLeft: 585, barRight: 616, barLabelX: 622,
    xDomain: [2.6015, 2.8492], xTicks: ticksQB, yTicks: ticksZ, yMinor: d3.range(40, 54),
    xLabelY: 854, yLabelX: 54, zMax: 9700, zMajor: [1, 10, 100, 1000],
    zMinor: [2, 3, 4, 5, 6, 7, 8, 9, 20, 30, 40, 50, 60, 70, 80, 90, 200, 300, 400, 500, 600, 700, 800, 900, 2000, 3000, 4000, 5000, 6000, 7000, 8000, 9000],
    binX: .000625, binY: .05, spreadX: 1.05, spreadY: .78, halo: 1.25, bandShift: 1
};
panelB.x = d3.scaleLinear().domain(panelB.xDomain).range([panelB.left, panelB.right]);
panelB.y = d3.scaleLinear().domain([40, 53]).range([panelB.bottom, panelB.top]);
drawCells(panelB, blobsB, cellsB, strayQB, strayZB);
isotopeEllipses(panelB, qHlike, qHlike.map(() => 46), "#00ff00", "5,3", .0042, .42, 2);
isotopeEllipses(panelB, qBare, qBare.map(() => 46), "#ff00ff", null, .0042, .42, 2);
drawAxes(panelB);
drawColorBar(panelB);
italicLabel(22, 482, "Z");
italicLabel(522, 860, "A/Q");
plainLabel(113, 532, "(b)", 26);
nuclide(306, 816, "125", "Pd", "45+");
nuclide(439, 816, "128", "Pd", "46+");

// arrows to the two Pd isotopes: [from A/Q, from Z, tip A/Q, tip Z]
const arrowsB = [[2.7484, 41.5, 2.776, 45.55], [2.81, 41.5, 2.7846, 45.55]];
arrowsB.forEach(([q0, z0, q1, z1]) => {
    const x0 = panelB.x(q0), y0 = panelB.y(z0), x1 = panelB.x(q1), y1 = panelB.y(z1);
    const ang = Math.atan2(y1 - y0, x1 - x0), len = 13, wing = .5;
    const head = `M${x1 - len * Math.cos(ang - wing)},${y1 - len * Math.sin(ang - wing)}L${x1},${y1}L${x1 - len * Math.cos(ang + wing)},${y1 - len * Math.sin(ang + wing)}`;
    svg.append("path").attr("d", `M${x0},${y0}L${x1},${y1}${head}`)
        .attr("fill", "none").attr("stroke", "#000").attr("stroke-width", 1.7);
});

// ---- panel (c) ----
const panelC = {
    left: 64, right: 581, top: 907, bottom: 1253, barLeft: 585, barRight: 616, barLabelX: 622,
    xDomain: [2.6014, 2.8484], xTicks: ticksQB, yTicks: ticksA, yMinor: d3.range(110, 135),
    xLabelY: 1283, yLabelX: 60, zMax: 38, zMajor: [1, 10],
    zMinor: [2, 3, 4, 5, 6, 7, 8, 9, 20, 30],
    binX: .00125, binY: .2, spreadX: 1.15, spreadY: 1, halo: 0, bandShift: 0
};
panelC.x = d3.scaleLinear().domain(panelC.xDomain).range([panelC.left, panelC.right]);
panelC.y = d3.scaleLinear().domain([110, 135]).range([panelC.bottom, panelC.top]);
drawCells(panelC, blobsC, cellsC, strayQC, strayAC);
isotopeEllipses(panelC, qHlike, massHlike, "#00ff00", "4,2.5", .0042, 2.45, 1.6);
isotopeEllipses(panelC, qBare, massBare, "#ff00ff", null, .0042, 2.45, 2);
drawAxes(panelC);
drawColorBar(panelC);
italicLabel(22, 909, "A");
italicLabel(522, 1283, "A/Q");
plainLabel(108, 963, "(c)", 26);
massBare.forEach((m, i) => plainLabel(panelC.x(labelAtBare[i][0]), panelC.y(labelAtBare[i][1]) + 8, m, 22));
massHlike.forEach((m, i) => plainLabel(panelC.x(labelAtHlike[i][0]), panelC.y(labelAtHlike[i][1]) + 8, m, 22));
plainLabel(294.5, 941, "fully-stripped", 24);
plainLabel(297, 970, "(46+)", 24);
plainLabel(422, 1142, "(45+)", 24);
plainLabel(445, 1169, "hydrogen-like", 23.5);
const gated = plainLabel(186, 1234, "gated on Pd isotopes (|", 23.5, "start");
gated.append("tspan").attr("font-style", "italic").text("Z");
gated.append("tspan").text("-46|<0.4)");
</script>
</body>
</html>
